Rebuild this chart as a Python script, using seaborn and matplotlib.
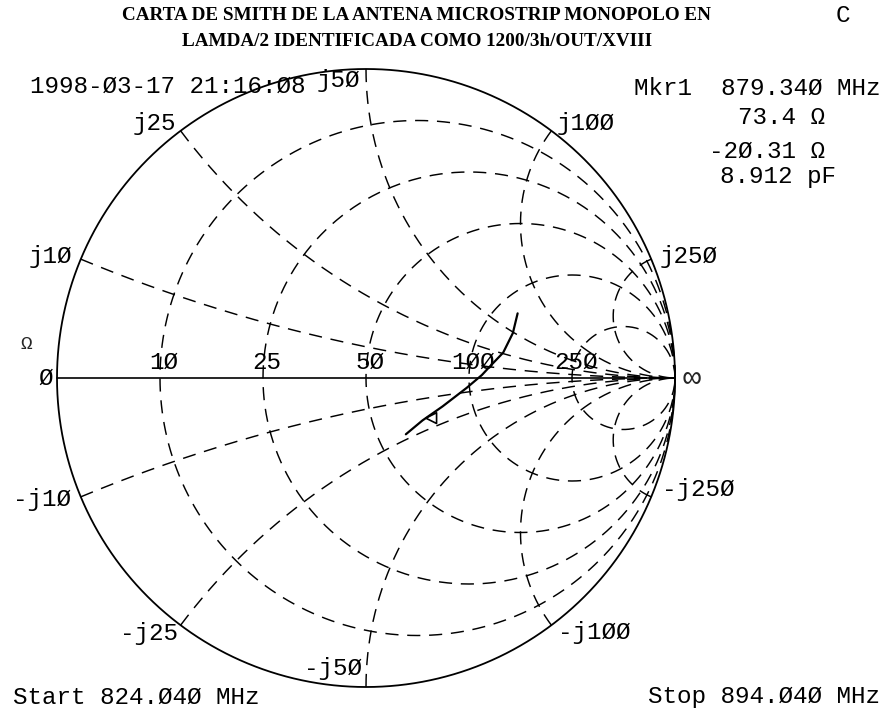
import numpy as np
import pandas as pd
import matplotlib
matplotlib.use("Agg")
import matplotlib.pyplot as plt
import seaborn as sns

# Swept impedance of the antenna, 824.040 -> 894.040 MHz (ohms)
trace_r = [118, 127, 126, 116, 110, 98, 81, 69, 60]
trace_x = [69, 49, 26, 10, 2.5, -7, -16, -20, -23]

# Marker readout
marker_freq = "879.34Ø MHz"
marker_r = 73.4
marker_x = -20.31
marker_cap = "8.912 pF"

z0 = 50.0
grid_ohms = [10, 25, 50, 100, 250]
grid_labels = ["1Ø", "25", "5Ø", "1ØØ", "25Ø"]
react_labels_pos = ["j1Ø", "j25", "j5Ø", "j1ØØ", "j25Ø"]
react_labels_neg = ["-j1Ø", "-j25", "-j5Ø", "-j1ØØ", "-j25Ø"]

title_lines = ["CARTA DE SMITH DE LA ANTENA MICROSTRIP MONOPOLO EN",
               "LAMDA/2 IDENTIFICADA COMO 1200/3h/OUT/XVIII"]
timestamp = "1998-Ø3-17 21:16:Ø8"
start_txt = "Start 824.Ø4Ø MHz"
stop_txt = "Stop 894.Ø4Ø MHz"

W, H = 885, 717
CX, CY, RAD = 366, 378, 309

sns.set_theme(style="white")
plt.rcParams["font.family"] = ["Liberation Mono", "DejaVu Sans Mono"]

fig = plt.figure(figsize=(W / 100, H / 100), dpi=100)
ax = fig.add_axes([0, 0, 1, 1])
ax.set_xlim(-CX / RAD, (W - CX) / RAD)
ax.set_ylim((CY - H) / RAD, CY / RAD)
ax.set_aspect("equal")
ax.axis("off")


def gamma(r_ohm, x_ohm):
    z = (np.asarray(r_ohm) + 1j * np.asarray(x_ohm)) / z0
    return (z - 1) / (z + 1)


DASH = dict(color="black", lw=1.05, linestyle=(0, (9, 6)))

# constant-resistance circles
t = np.linspace(0, 2 * np.pi, 721)
for r in grid_ohms:
    rn = r / z0
    c, rad = rn / (1 + rn), 1 / (1 + rn)
    ax.plot(c + rad * np.cos(t), rad * np.sin(t), **DASH)

# constant-reactance arcs
s = np.tan(np.linspace(0, np.pi / 2 - 1e-3, 800)) * z0
for x in grid_ohms:
    for sign in (1, -1):
        g = gamma(s, sign * x)
        ax.plot(g.real, g.imag, **DASH)

# outer boundary and real axis
ax.plot(np.cos(t), np.sin(t), color="black", lw=1.3)
ax.plot([-1, 1], [0, 0], color="black", lw=1.2)

# measured trace
g = gamma(trace_r, trace_x)
df = pd.DataFrame({"re": g.real, "im": g.imag})
sns.lineplot(data=df, x="re", y="im", sort=False, estimator=None,
             color="black", lw=1.6, ax=ax)

gm = gamma(marker_r, marker_x)
mk = pd.DataFrame({"re": [gm.real], "im": [gm.imag]})
sns.scatterplot(data=mk, x="re", y="im", marker="<", s=60,
                facecolor="none", edgecolor="black", linewidth=1.2, ax=ax)

FS = 17.5
TXT = dict(fontsize=FS, color="black")


def fig_text(x, y, s, ha="left", va="center", **kw):
    fig.text(x / W, 1 - y / H, s, ha=ha, va=va, **{**TXT, **kw})


# resistance labels along the real axis
for r, lab in zip(grid_ohms, grid_labels):
    gx = gamma(r, 0).real
    ax.annotate(lab, (gx, 0), xytext=(3, 11), textcoords="offset points",
                ha="center", va="center", **TXT)
ax.annotate("Ø", (-1, 0), xytext=(-8, 0), textcoords="offset points",
            ha="center", va="center", **TXT)
ax.annotate("Ω", (-1, 0), xytext=(-22, 24), textcoords="offset points",
            ha="center", va="center", fontsize=14)
ax.annotate("∞", (1, 0), xytext=(12, 0), textcoords="offset points",
            ha="center", va="center", fontsize=22)

# reactance labels at the rim (offsets in points)
pos_offsets = [(-6, 2, "right"), (-3, 5, "right"), (-4, -8, "right"),
               (4, 5, "left"), (6, 2, "left")]
neg_offsets = [(-7, -2, "right"), (-2, -6, "right"), (-3, 13, "right"),
               (5, -5, "left"), (8, 5, "left")]
for x, lab, (dx, dy, ha) in zip(grid_ohms, react_labels_pos, pos_offsets):
    p = gamma(0, x)
    ax.annotate(lab, (p.real, p.imag), xytext=(dx, dy),
                textcoords="offset points", ha=ha, va="center", **TXT)
for x, lab, (dx, dy, ha) in zip(grid_ohms, react_labels_neg, neg_offsets):
    p = gamma(0, -x)
    ax.annotate(lab, (p.real, p.imag), xytext=(dx, dy),
                textcoords="offset points", ha=ha, va="center", **TXT)

# header and footer annotations
for i, line in enumerate(title_lines):
    fig_text(417, 16 + 26 * i, line, ha="center", fontsize=13.8,
             fontweight="bold", family="Liberation Serif")
fig_text(836, 15, "C")
fig_text(30, 86, timestamp)
fig_text(880, 88, "Mkr1  " + marker_freq, ha="right")
fig_text(825, 117, f"{marker_r:.1f} Ω", ha="right")
fig_text(825, 151, f"{marker_x:.2f} Ω".replace("0", "Ø"), ha="right")
fig_text(836, 177, marker_cap, ha="right")
fig_text(13, 697, start_txt)
fig_text(880, 697, stop_txt, ha="right")

fig.savefig("out.png", dpi=100, facecolor="white")
